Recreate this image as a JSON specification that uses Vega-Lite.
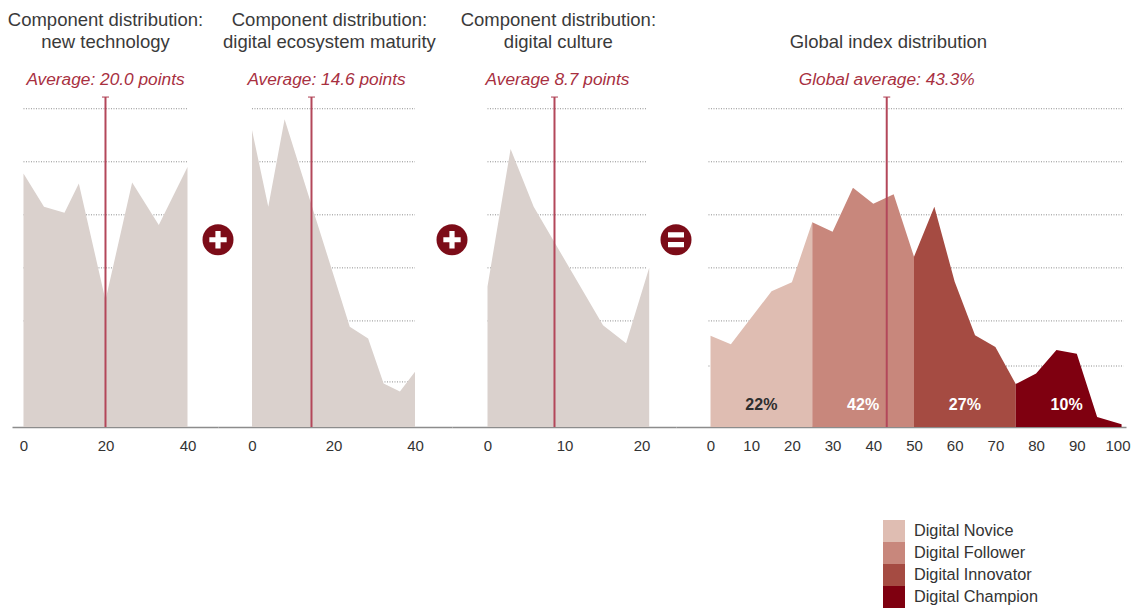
{
  "$schema": "https://vega.github.io/schema/vega-lite/v6.json",
  "padding": {"left": 7, "top": 0, "right": 0, "bottom": 0},
  "background": "white",
  "spacing": 0,
  "bounds": "flush",
  "config": {
    "font": "Liberation Sans",
    "view": {"stroke": null},
    "axisX": {
      "grid": false,
      "ticks": false,
      "tickSize": 0,
      "labelPadding": 11,
      "labelFontSize": 15,
      "labelColor": "#333333",
      "labelFlush": false,
      "labelOverlap": false,
      "domainColor": "#8c8c8c",
      "domainWidth": 1.5
    }
  },
  "hconcat": [
    {
      "width": 206,
      "height": 427,
      "layer": [
        {
          "data": {"values": [{"g": 20}, {"g": 30}, {"g": 40}, {"g": 50}, {"g": 60}]},
          "mark": {"type": "rule", "color": "#8c8c8c", "strokeWidth": 1, "strokeDash": [1, 1.5]},
          "encoding": {
            "y": {"field": "g", "type": "quantitative", "axis": null},
            "x": {"datum": 0, "type": "quantitative", "axis": {"values": [0, 20, 40], "title": null}},
            "x2": {"datum": 40}
          }
        },
        {
          "data": {"values": [
            {"score": 0, "share": 47.8}, {"score": 5, "share": 41.5}, {"score": 10, "share": 40.4},
            {"score": 13.5, "share": 45.9}, {"score": 20, "share": 23.9}, {"score": 26.5, "share": 46.1},
            {"score": 33, "share": 38.1}, {"score": 40, "share": 49.0}
          ]},
          "mark": {"type": "area", "color": "#dad1cd"},
          "encoding": {
            "x": {"field": "score", "type": "quantitative", "scale": {"domain": [-2.8, 47.44], "nice": false, "zero": false}, "axis": {"values": [0, 20, 40], "title": null}},
            "y": {"field": "share", "type": "quantitative", "scale": {"domain": [0, 80.5], "nice": false}, "axis": null}
          }
        },
        {
          "data": {"values": [{"avg": 20.0, "label": "Average: 20.0 points"}]},
          "layer": [
            {"mark": {"type": "rule", "color": "#b3475a", "strokeWidth": 2}, "encoding": {"x": {"field": "avg", "type": "quantitative", "axis": {"values": [0, 20, 40], "title": null}}, "y": {"datum": 0, "axis": null}, "y2": {"datum": 62.2}}},
            {"mark": {"type": "tick", "orient": "horizontal", "color": "#b3475a", "size": 7, "thickness": 1.5}, "encoding": {"x": {"field": "avg", "type": "quantitative", "axis": {"values": [0, 20, 40], "title": null}}, "y": {"datum": 62.2, "axis": null}}},
            {"mark": {"type": "text", "fontSize": 17.3, "fontStyle": "italic", "color": "#a8303f", "baseline": "middle"}, "encoding": {"x": {"field": "avg", "type": "quantitative", "axis": {"values": [0, 20, 40], "title": null}}, "y": {"datum": 65.4, "axis": null}, "text": {"field": "label"}}}
          ]
        },
        {
          "data": {"values": [{"title": "Component distribution: new technology"}]},
          "mark": {"type": "text", "fontSize": 18.5, "color": "#3a3a3a", "lineHeight": 22, "baseline": "middle"},
          "encoding": {"x": {"datum": 20, "type": "quantitative", "axis": {"values": [0, 20, 40], "title": null}}, "y": {"datum": 76.7, "axis": null}, "text": {"value": ["Component distribution:", "new technology"]}}
        },
        {
          "data": {"values": [{"sign": "+"}]},
          "layer": [
            {"mark": {"type": "circle", "color": "#7c0c18", "opacity": 1, "size": 961}, "encoding": {"x": {"datum": 47.44, "type": "quantitative", "axis": {"values": [0, 20, 40], "title": null}}, "y": {"datum": 35.3, "axis": null}}},
            {"mark": {"type": "point", "filled": true, "opacity": 1, "color": "white", "size": 300, "strokeWidth": 0, "shape": "M-1,-0.3H-0.3V-1H0.3V-0.3H1V0.3H0.3V1H-0.3V0.3H-1Z"}, "encoding": {"x": {"datum": 47.44, "type": "quantitative", "axis": {"values": [0, 20, 40], "title": null}}, "y": {"datum": 35.3, "axis": null}}}
          ]
        }
      ]
    },
    {
      "width": 234,
      "height": 427,
      "layer": [
        {
          "data": {"values": [{"g": 8.5}, {"g": 20}, {"g": 30}, {"g": 40}, {"g": 50}, {"g": 60}]},
          "mark": {"type": "rule", "color": "#8c8c8c", "strokeWidth": 1, "strokeDash": [1, 1.5]},
          "encoding": {
            "y": {"field": "g", "type": "quantitative", "axis": null},
            "x": {"datum": 0, "type": "quantitative", "axis": {"values": [0, 20, 40], "title": null}},
            "x2": {"datum": 40}
          }
        },
        {
          "data": {"values": [
            {"score": 0, "share": 56.0}, {"score": 4, "share": 41.5}, {"score": 8, "share": 58.0},
            {"score": 24, "share": 18.9}, {"score": 28.5, "share": 16.7}, {"score": 32.3, "share": 8.2},
            {"score": 36.3, "share": 6.7}, {"score": 40, "share": 10.4}
          ]},
          "mark": {"type": "area", "color": "#dad1cd"},
          "encoding": {
            "x": {"field": "score", "type": "quantitative", "scale": {"domain": [-8.34, 49.08], "nice": false, "zero": false}, "axis": {"values": [0, 20, 40], "title": null}},
            "y": {"field": "share", "type": "quantitative", "scale": {"domain": [0, 80.5], "nice": false}, "axis": null}
          }
        },
        {
          "data": {"values": [{"avg": 14.6, "label": "Average: 14.6 points"}]},
          "layer": [
            {"mark": {"type": "rule", "color": "#b3475a", "strokeWidth": 2}, "encoding": {"x": {"field": "avg", "type": "quantitative", "axis": {"values": [0, 20, 40], "title": null}}, "y": {"datum": 0, "axis": null}, "y2": {"datum": 62.2}}},
            {"mark": {"type": "tick", "orient": "horizontal", "color": "#b3475a", "size": 7, "thickness": 1.5}, "encoding": {"x": {"field": "avg", "type": "quantitative", "axis": {"values": [0, 20, 40], "title": null}}, "y": {"datum": 62.2, "axis": null}}},
            {"mark": {"type": "text", "fontSize": 17.3, "fontStyle": "italic", "color": "#a8303f", "baseline": "middle", "dx": 15}, "encoding": {"x": {"field": "avg", "type": "quantitative", "axis": {"values": [0, 20, 40], "title": null}}, "y": {"datum": 65.4, "axis": null}, "text": {"field": "label"}}}
          ]
        },
        {
          "data": {"values": [{"title": "Component distribution: digital ecosystem maturity"}]},
          "mark": {"type": "text", "fontSize": 18.5, "color": "#3a3a3a", "lineHeight": 22, "baseline": "middle"},
          "encoding": {"x": {"datum": 19, "type": "quantitative", "axis": {"values": [0, 20, 40], "title": null}}, "y": {"datum": 76.7, "axis": null}, "text": {"value": ["Component distribution:", "digital ecosystem maturity"]}}
        },
        {
          "data": {"values": [{"sign": "+"}]},
          "layer": [
            {"mark": {"type": "circle", "color": "#7c0c18", "opacity": 1, "size": 961}, "encoding": {"x": {"datum": 49.08, "type": "quantitative", "axis": {"values": [0, 20, 40], "title": null}}, "y": {"datum": 35.3, "axis": null}}},
            {"mark": {"type": "point", "filled": true, "opacity": 1, "color": "white", "size": 300, "strokeWidth": 0, "shape": "M-1,-0.3H-0.3V-1H0.3V-0.3H1V0.3H0.3V1H-0.3V0.3H-1Z"}, "encoding": {"x": {"datum": 49.08, "type": "quantitative", "axis": {"values": [0, 20, 40], "title": null}}, "y": {"datum": 35.3, "axis": null}}}
          ]
        }
      ]
    },
    {
      "width": 224,
      "height": 427,
      "layer": [
        {
          "data": {"values": [{"g": 20}, {"g": 30}, {"g": 40}, {"g": 50}, {"g": 60}]},
          "mark": {"type": "rule", "color": "#8c8c8c", "strokeWidth": 1, "strokeDash": [1, 1.5]},
          "encoding": {
            "y": {"field": "g", "type": "quantitative", "axis": null},
            "x": {"datum": 0, "type": "quantitative", "axis": {"values": [0, 10, 20], "title": null}},
            "x2": {"datum": 20.7}
          }
        },
        {
          "data": {"values": [
            {"score": 0, "share": 26.5}, {"score": 3, "share": 52.4}, {"score": 6, "share": 41.5},
            {"score": 15, "share": 19.2}, {"score": 18, "share": 15.8}, {"score": 21, "share": 30.0}
          ]},
          "mark": {"type": "area", "color": "#dad1cd"},
          "encoding": {
            "x": {"field": "score", "type": "quantitative", "scale": {"domain": [-4.61, 24.48], "nice": false, "zero": false}, "axis": {"values": [0, 10, 20], "title": null}},
            "y": {"field": "share", "type": "quantitative", "scale": {"domain": [0, 80.5], "nice": false}, "axis": null}
          }
        },
        {
          "data": {"values": [{"avg": 8.7, "label": "Average 8.7 points"}]},
          "layer": [
            {"mark": {"type": "rule", "color": "#b3475a", "strokeWidth": 2}, "encoding": {"x": {"field": "avg", "type": "quantitative", "axis": {"values": [0, 10, 20], "title": null}}, "y": {"datum": 0, "axis": null}, "y2": {"datum": 62.2}}},
            {"mark": {"type": "tick", "orient": "horizontal", "color": "#b3475a", "size": 7, "thickness": 1.5}, "encoding": {"x": {"field": "avg", "type": "quantitative", "axis": {"values": [0, 10, 20], "title": null}}, "y": {"datum": 62.2, "axis": null}}},
            {"mark": {"type": "text", "fontSize": 17.3, "fontStyle": "italic", "color": "#a8303f", "baseline": "middle", "dx": 3}, "encoding": {"x": {"field": "avg", "type": "quantitative", "axis": {"values": [0, 10, 20], "title": null}}, "y": {"datum": 65.4, "axis": null}, "text": {"field": "label"}}}
          ]
        },
        {
          "data": {"values": [{"title": "Component distribution: digital culture"}]},
          "mark": {"type": "text", "fontSize": 18.5, "color": "#3a3a3a", "lineHeight": 22, "baseline": "middle"},
          "encoding": {"x": {"datum": 9.2, "type": "quantitative", "axis": {"values": [0, 10, 20], "title": null}}, "y": {"datum": 76.7, "axis": null}, "text": {"value": ["Component distribution:", "digital culture"]}}
        },
        {
          "data": {"values": [{"sign": "="}]},
          "layer": [
            {"mark": {"type": "circle", "color": "#7c0c18", "opacity": 1, "size": 961}, "encoding": {"x": {"datum": 24.48, "type": "quantitative", "axis": {"values": [0, 10, 20], "title": null}}, "y": {"datum": 35.3, "axis": null}}},
            {"mark": {"type": "point", "filled": true, "opacity": 1, "color": "white", "size": 256, "strokeWidth": 0, "shape": "M-1,-0.93H1V-0.27H-1Z M-1,0.27H1V0.93H-1Z"}, "encoding": {"x": {"datum": 24.48, "type": "quantitative", "axis": {"values": [0, 10, 20], "title": null}}, "y": {"datum": 35.3, "axis": null}}}
          ]
        }
      ]
    },
    {
      "width": 450,
      "height": 427,
      "layer": [
        {
          "data": {"values": [{"g": 11.5}, {"g": 20}, {"g": 30}, {"g": 40}, {"g": 50}, {"g": 60}]},
          "mark": {"type": "rule", "color": "#8c8c8c", "strokeWidth": 1, "strokeDash": [1, 1.5]},
          "encoding": {
            "y": {"field": "g", "type": "quantitative", "axis": null},
            "x": {"datum": -0.5, "type": "quantitative", "axis": {"values": [0, 10, 20, 30, 40, 50, 60, 70, 80, 90, 100], "title": null}},
            "x2": {"datum": 101.5}
          }
        },
        {
          "data": {"values": [
            {"level": "Digital Novice", "score": 0, "share": 17.2},
            {"level": "Digital Novice", "score": 5, "share": 15.6},
            {"level": "Digital Novice", "score": 15, "share": 25.6},
            {"level": "Digital Novice", "score": 20, "share": 27.3},
            {"level": "Digital Novice", "score": 25, "share": 38.6},
            {"level": "Digital Follower", "score": 25, "share": 38.6},
            {"level": "Digital Follower", "score": 30, "share": 36.8},
            {"level": "Digital Follower", "score": 35, "share": 45.1},
            {"level": "Digital Follower", "score": 40, "share": 42.1},
            {"level": "Digital Follower", "score": 45, "share": 43.9},
            {"level": "Digital Follower", "score": 50, "share": 32.1},
            {"level": "Digital Innovator", "score": 50, "share": 32.1},
            {"level": "Digital Innovator", "score": 55, "share": 41.5},
            {"level": "Digital Innovator", "score": 60, "share": 27.4},
            {"level": "Digital Innovator", "score": 65, "share": 17.3},
            {"level": "Digital Innovator", "score": 70, "share": 15.1},
            {"level": "Digital Innovator", "score": 75, "share": 8.1},
            {"level": "Digital Champion", "score": 75, "share": 8.1},
            {"level": "Digital Champion", "score": 80, "share": 10.1},
            {"level": "Digital Champion", "score": 85, "share": 14.5},
            {"level": "Digital Champion", "score": 90, "share": 13.8},
            {"level": "Digital Champion", "score": 95, "share": 1.9},
            {"level": "Digital Champion", "score": 101, "share": 0.5}
          ]},
          "mark": {"type": "area", "opacity": 1},
          "encoding": {
            "x": {"field": "score", "type": "quantitative", "scale": {"domain": [-8.48, 102.09], "nice": false, "zero": false}, "axis": {"values": [0, 10, 20, 30, 40, 50, 60, 70, 80, 90, 100], "title": null}},
            "y": {"field": "share", "type": "quantitative", "stack": null, "scale": {"domain": [0, 80.5], "nice": false}, "axis": null},
            "color": {
              "field": "level",
              "type": "nominal",
              "scale": {
                "domain": ["Digital Novice", "Digital Follower", "Digital Innovator", "Digital Champion"],
                "range": ["#dfbdb2", "#c8877c", "#a54b42", "#7f0010"]
              },
              "legend": {
                "orient": "none",
                "legendX": 871,
                "legendY": 520,
                "title": null,
                "padding": 0,
                "symbolType": "square",
                "symbolSize": 484,
                "symbolStrokeWidth": 0,
                "symbolOpacity": 1,
                "rowPadding": 0,
                "labelFontSize": 16.3,
                "labelColor": "#333333",
                "labelOffset": 9
              }
            }
          }
        },
        {
          "data": {"values": [
            {"level": "Digital Novice", "pct": 0.22, "mid": 12.5},
            {"level": "Digital Follower", "pct": 0.42, "mid": 37.5},
            {"level": "Digital Innovator", "pct": 0.27, "mid": 62.5},
            {"level": "Digital Champion", "pct": 0.10, "mid": 87.5}
          ]},
          "mark": {"type": "text", "fontSize": 16, "fontWeight": "bold", "baseline": "middle"},
          "encoding": {
            "x": {"field": "mid", "type": "quantitative", "axis": {"values": [0, 10, 20, 30, 40, 50, 60, 70, 80, 90, 100], "title": null}},
            "y": {"datum": 4.15, "axis": null},
            "text": {"field": "pct", "format": ".0%"},
            "color": {"condition": {"test": "datum.level === 'Digital Novice'", "value": "#2e2e2e"}, "value": "#ffffff"}
          }
        },
        {
          "data": {"values": [{"avg": 43.3, "label": "Global average: 43.3%"}]},
          "layer": [
            {"mark": {"type": "rule", "color": "#b3475a", "strokeWidth": 2}, "encoding": {"x": {"field": "avg", "type": "quantitative", "axis": {"values": [0, 10, 20, 30, 40, 50, 60, 70, 80, 90, 100], "title": null}}, "y": {"datum": 0, "axis": null}, "y2": {"datum": 62.2}}},
            {"mark": {"type": "tick", "orient": "horizontal", "color": "#b3475a", "size": 7, "thickness": 1.5}, "encoding": {"x": {"field": "avg", "type": "quantitative", "axis": {"values": [0, 10, 20, 30, 40, 50, 60, 70, 80, 90, 100], "title": null}}, "y": {"datum": 62.2, "axis": null}}},
            {"mark": {"type": "text", "fontSize": 17.3, "fontStyle": "italic", "color": "#a8303f", "baseline": "middle"}, "encoding": {"x": {"field": "avg", "type": "quantitative", "axis": {"values": [0, 10, 20, 30, 40, 50, 60, 70, 80, 90, 100], "title": null}}, "y": {"datum": 65.4, "axis": null}, "text": {"field": "label"}}}
          ]
        },
        {
          "data": {"values": [{"title": "Global index distribution"}]},
          "mark": {"type": "text", "fontSize": 18.5, "color": "#3a3a3a", "baseline": "middle"},
          "encoding": {"x": {"datum": 43.7, "type": "quantitative", "axis": {"values": [0, 10, 20, 30, 40, 50, 60, 70, 80, 90, 100], "title": null}}, "y": {"datum": 72.6, "axis": null}, "text": {"field": "title"}}
        }
      ]
    }
  ]
}
